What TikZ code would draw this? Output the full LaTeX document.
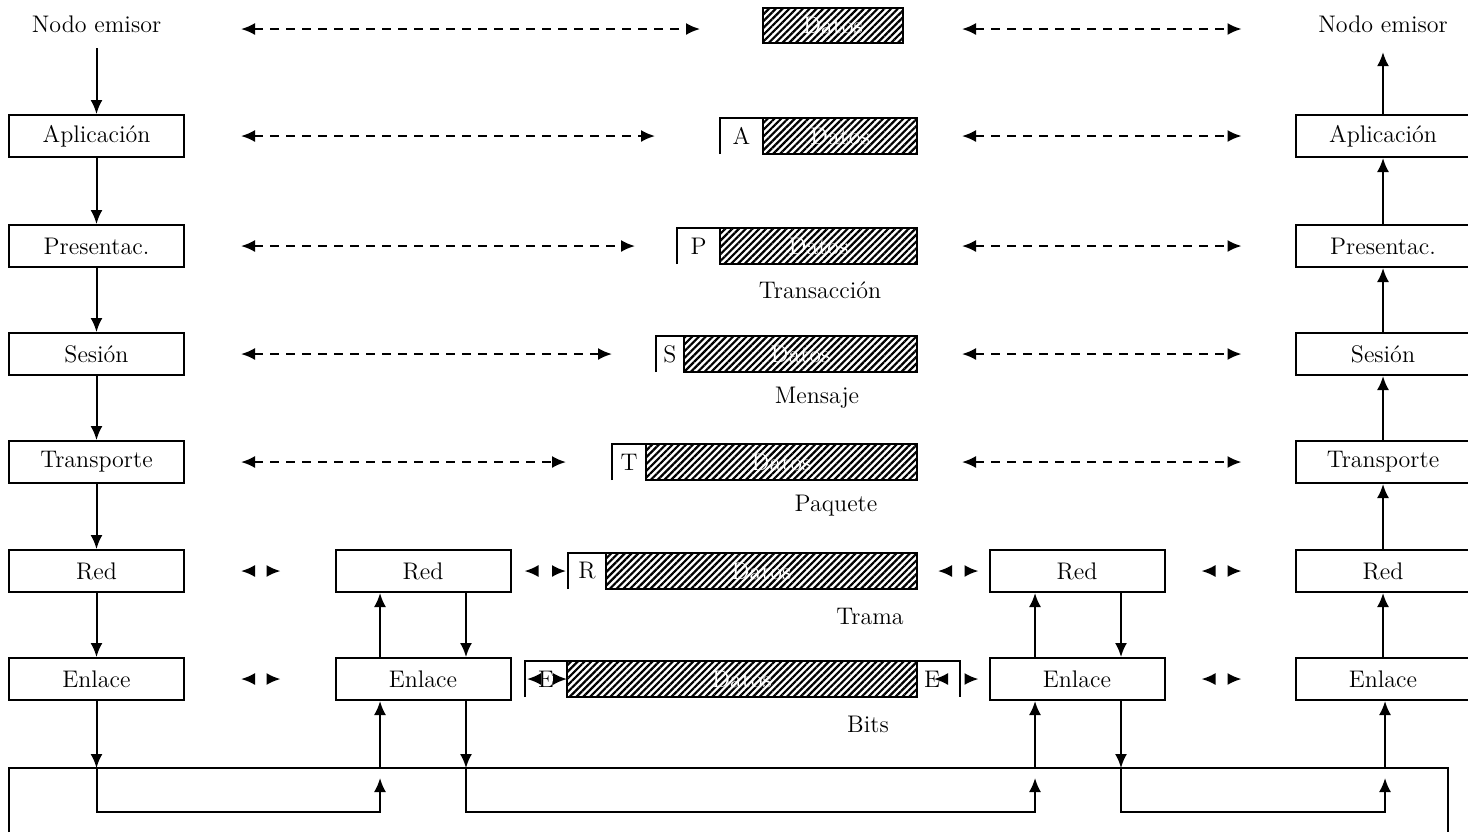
\documentclass[tikz,border=0pt]{standalone}
\usetikzlibrary{arrows.meta,patterns.meta}
\begin{document}
\begin{tikzpicture}[x=0.5pt,y=-0.5pt,line width=1pt,font=\large,
    capa/.style={draw, minimum width=87.5pt, minimum height=21pt, inner sep=0pt},
    flecha/.style={-{Latex[length=7pt,width=6pt]}},
    par/.style={{Latex[length=7pt,width=6pt]}-{Latex[length=7pt,width=6pt]}, dash pattern=on 4.5pt off 3.5pt},
    corto/.style={par, dash pattern=on 0pt off 80pt},
    rayas/.style={pattern={Lines[angle=45,distance=2.4pt,line width=1.1pt]}}]
    \useasboundingbox (0,0) rectangle (1468,832);

    % y of the medium line and of the return path below it
    \coordinate (medio) at (0,768);
    \coordinate (subida) at (0,778);
    \coordinate (fondo) at (0,812);

    % Macro for a data unit: #1 name, #2 header letter, #3 header x, #4 data x, #5 end x, #6 y
    \newcommand{\bloque}[6]{
        \draw[rayas] (#4,#6-18) rectangle (#5,#6+18);
        \node[text=white] (d#1) at ({(#4+#5)/2},#6) {Datos};
        \draw (#3,#6+18) |- (#4,#6-18);
        \node (c#1) at ({(#3+#4)/2},#6) {#2};
        \coordinate (i#1) at (#3,#6);
        \coordinate (f#1) at (#4,#6);
        \coordinate (e#1) at (#5,#6);
    }

    % End nodes (left and right columns)
    \node (emisorL) at (96.5,24) {Nodo emisor};
    \node (emisorR) at (1383,24) {Nodo emisor};
    \foreach \n/\t/\y in {ap/Aplicación/136, pr/Presentac./246, se/Sesión/354,
                          tr/Transporte/462, re/Red/571, en/Enlace/679} {
        \node[capa] (L\n) at (96.5,\y) {\t};
        \node[capa] (R\n) at (1383,\y) {\t};
    }

    % Intermediate nodes
    \node[capa] (Bre) at (423,571) {Red};
    \node[capa] (Ben) at (423,679) {Enlace};
    \node[capa] (Cre) at (1077,571) {Red};
    \node[capa] (Cen) at (1077,679) {Enlace};
    \coordinate (Bi) at ([xshift=-21.5pt]Ben.south);
    \coordinate (Bd) at ([xshift=21.5pt]Ben.south);
    \coordinate (Ci) at ([xshift=-21pt]Cen.south);
    \coordinate (Cd) at ([xshift=22pt]Cen.south);

    % Data units
    \draw[rayas] (763,8) rectangle (903,43);
    \node[text=white] (dda) at (833,25.5) {Datos};
    \coordinate (ida) at (763,29);
    \coordinate (eda) at (903,29);
    \bloque{ap}{A}{720}{763}{917}{136}
    \bloque{pr}{P}{677}{720}{917}{246}
    \bloque{se}{S}{656}{684}{917}{354}
    \bloque{tr}{T}{612}{646}{917}{462}
    \bloque{re}{R}{568}{606}{917}{571}
    \bloque{en}{E}{525}{567}{917}{679}
    \draw (917,661) -| (960,697);
    \node (ten) at (932,679) {E};

    \node (transaccion) at (820,290) {Transacción};
    \node (mensaje) at (817,398) {Mensaje};
    \node (paquete) at (836,506) {Paquete};
    \node (trama) at (870,616) {Trama};
    \node (bits) at (868,724) {Bits};

    % Vertical flow, sender and receiver
    \draw[flecha] ([yshift=-4pt]emisorL.south) -- (Lap);
    \draw[flecha] (Lap) -- (Lpr);
    \draw[flecha] (Lpr) -- (Lse);
    \draw[flecha] (Lse) -- (Ltr);
    \draw[flecha] (Ltr) -- (Lre);
    \draw[flecha] (Lre) -- (Len);
    \draw[flecha] (Ren) -- (Rre);
    \draw[flecha] (Rre) -- (Rtr);
    \draw[flecha] (Rtr) -- (Rse);
    \draw[flecha] (Rse) -- (Rpr);
    \draw[flecha] (Rpr) -- (Rap);
    \draw[flecha] (Rap) -- ([yshift=-6pt]emisorR.south);

    % Inside the intermediate nodes
    \draw[flecha] (Bi |- Ben.north) -- (Bi |- Bre.south);
    \draw[flecha] (Bd |- Bre.south) -- (Bd |- Ben.north);
    \draw[flecha] (Ci |- Cen.north) -- (Ci |- Cre.south);
    \draw[flecha] (Cd |- Cre.south) -- (Cd |- Cen.north);

    % Physical medium
    \draw (9,832) |- (1448,768) -- (1448,832);
    \draw[flecha] (Len) -- (Len |- medio);
    \draw[flecha] (Len |- medio) -- (Len |- fondo) -| (Bi |- subida);
    \draw[flecha] (Bi |- medio) -- (Bi);
    \draw[flecha] (Bd) -- (Bd |- medio);
    \draw[flecha] (Bd |- medio) -- (Bd |- fondo) -| (Ci |- subida);
    \draw[flecha] (Ci |- medio) -- (Ci);
    \draw[flecha] (Cd) -- (Cd |- medio);
    \draw[flecha] (Cd |- medio) -- (Cd |- fondo) -| ([xshift=1pt]Ren.south |- subida);
    \draw[flecha] ([xshift=1pt]Ren.south |- medio) -- ([xshift=1pt]Ren.south);

    % Peer to peer dialogue
    \draw[par] ([xshift=28pt]Lap.east |- ida) -- ([xshift=-31.5pt]ida);
    \draw[par] ([xshift=29.5pt]eda) -- ([xshift=-26.5pt]Rap.west |- eda);
    \draw[par] ([xshift=28pt]Lap.east) -- ([xshift=-32.5pt]iap);
    \draw[par] ([xshift=22.5pt]eap) -- ([xshift=-26.5pt]Rap.west);
    \draw[par] ([xshift=28pt]Lpr.east) -- ([xshift=-21pt]ipr);
    \draw[par] ([xshift=22.5pt]epr) -- ([xshift=-26.5pt]Rpr.west);
    \draw[par] ([xshift=28pt]Lse.east) -- ([xshift=-22pt]ise);
    \draw[par] ([xshift=22.5pt]ese) -- ([xshift=-26.5pt]Rse.west);
    \draw[par] ([xshift=28pt]Ltr.east) -- ([xshift=-23pt]itr);
    \draw[par] ([xshift=22.5pt]etr) -- ([xshift=-26.5pt]Rtr.west);

    \draw[corto] ([xshift=28pt]Lre.east) -- ([xshift=-27pt]Bre.west);
    \draw[corto] ([xshift=6.5pt]Bre.east) -- ([xshift=-1pt]ire);
    \draw[corto] ([xshift=10.5pt]ere) -- ([xshift=-5pt]Cre.west);
    \draw[corto] ([xshift=18pt]Cre.east) -- ([xshift=-26.5pt]Rre.west);
    \draw[corto] ([xshift=28pt]Len.east) -- ([xshift=-27pt]Ben.west);
    \draw[corto] ([xshift=1pt]ien) -- (fen);
    \draw[corto] ([xshift=8.5pt]een) -- ([xshift=-5pt]Cen.west);
    \draw[corto] ([xshift=18pt]Cen.east) -- ([xshift=-26.5pt]Ren.west);
\end{tikzpicture}
\end{document}
